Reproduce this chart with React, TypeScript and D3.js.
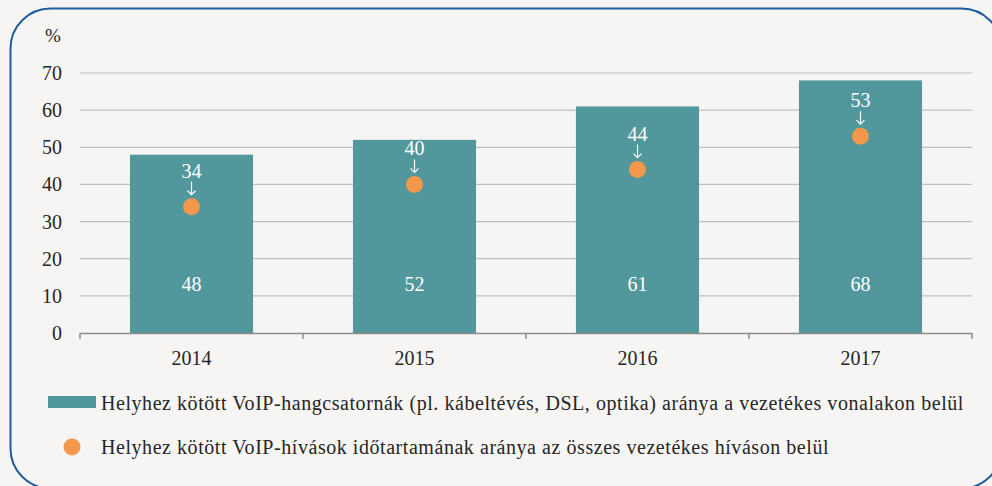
import React, { useEffect, useRef } from 'react';
import * as d3 from 'd3';

const years = ['2014', '2015', '2016', '2017'];
const channelShare = [48, 52, 61, 68];
const durationShare = [34, 40, 44, 53];
const yTicks = [0, 10, 20, 30, 40, 50, 60, 70];
const legendLabels = [
  'Helyhez kötött VoIP-hangcsatornák (pl. kábeltévés, DSL, optika) aránya a vezetékes vonalakon belül',
  'Helyhez kötött VoIP-hívások időtartamának aránya az összes vezetékes híváson belül',
];

const W = 992;
const H = 486;
const FONT = '"Liberation Serif", "DejaVu Serif", serif';
const BAR = '#52979b';
const DOT = '#f3984a';
const TEXT = '#262626';

const App = () => {
  const svgRef = useRef<SVGSVGElement | null>(null);

  useEffect(() => {
    const svg = d3.select(svgRef.current);
    svg.selectAll('*').remove();

    svg.append('rect').attr('width', W).attr('height', H).attr('fill', '#f6f5f3');

    // rounded frame, partly cut by the window
    svg.append('rect')
      .attr('x', 10.5).attr('y', 8.5)
      .attr('width', 991).attr('height', 480)
      .attr('rx', 40).attr('ry', 40)
      .attr('fill', 'none')
      .attr('stroke', '#1f5c9e')
      .attr('stroke-width', 2);

    const left = 80, right = 972, top = 73, bottom = 333;

    const x = d3.scaleBand().domain(years).range([left, right]).paddingInner(0.448).paddingOuter(0.224);
    const y = d3.scaleLinear().domain([0, 70]).range([bottom, top]);

    // gridlines
    svg.append('g').selectAll('line')
      .data(yTicks.filter(d => d > 0))
      .enter().append('line')
      .attr('x1', left).attr('x2', right)
      .attr('y1', d => y(d)).attr('y2', d => y(d))
      .attr('stroke', '#bfbfbf').attr('stroke-width', 1.2);

    // y labels
    svg.append('g').selectAll('text')
      .data(yTicks)
      .enter().append('text')
      .attr('x', 62).attr('y', d => y(d))
      .attr('dy', '0.35em')
      .attr('text-anchor', 'end')
      .attr('fill', TEXT)
      .style('font-family', FONT).style('font-size', '20px')
      .text(d => d);

    svg.append('text')
      .attr('x', 53).attr('y', 35).attr('dy', '0.35em')
      .attr('text-anchor', 'middle')
      .attr('fill', TEXT)
      .style('font-family', FONT).style('font-size', '19px')
      .text('%');

    // bars
    svg.append('g').selectAll('rect')
      .data(channelShare)
      .enter().append('rect')
      .attr('x', (d, i) => x(years[i])!)
      .attr('width', x.bandwidth())
      .attr('y', d => y(d))
      .attr('height', d => bottom - y(d))
      .attr('fill', BAR);

    svg.append('g').selectAll('text')
      .data(channelShare)
      .enter().append('text')
      .attr('x', (d, i) => x(years[i])! + x.bandwidth() / 2)
      .attr('y', y(13.3)).attr('dy', '0.35em')
      .attr('text-anchor', 'middle')
      .attr('fill', '#ffffff')
      .style('font-family', FONT).style('font-size', '20px')
      .text(d => d);

    // axis
    const step = x.step();
    svg.append('line')
      .attr('x1', left).attr('x2', right)
      .attr('y1', bottom + 0.5).attr('y2', bottom + 0.5)
      .attr('stroke', '#8c8c8c').attr('stroke-width', 1.5);
    svg.append('g').selectAll('line')
      .data(d3.range(years.length + 1))
      .enter().append('line')
      .attr('x1', i => left + i * step).attr('x2', i => left + i * step)
      .attr('y1', bottom).attr('y2', bottom + 6)
      .attr('stroke', '#8c8c8c').attr('stroke-width', 1.5);

    svg.append('g').selectAll('text')
      .data(years)
      .enter().append('text')
      .attr('x', d => x(d)! + x.bandwidth() / 2)
      .attr('y', 358).attr('dy', '0.35em')
      .attr('text-anchor', 'middle')
      .attr('fill', TEXT)
      .style('font-family', FONT).style('font-size', '20px')
      .text(d => d);

    // dots, arrows and labels
    const dots = svg.append('g');
    durationShare.forEach((v, i) => {
      const cx = x(years[i])! + x.bandwidth() / 2;
      const cy = y(v);
      dots.append('circle')
        .attr('cx', cx).attr('cy', cy).attr('r', 8.5)
        .attr('fill', DOT);
      dots.append('path')
        .attr('d', `M${cx},${cy - 25}V${cy - 12.5}M${cx - 4},${cy - 16}L${cx},${cy - 12}L${cx + 4},${cy - 16}`)
        .attr('fill', 'none')
        .attr('stroke', '#ffffff').attr('stroke-width', 1.2);
      dots.append('text')
        .attr('x', cx).attr('y', cy - 36).attr('dy', '0.35em')
        .attr('text-anchor', 'middle')
        .attr('fill', '#ffffff')
        .style('font-family', FONT).style('font-size', '20px')
        .text(v);
    });

    // legend
    svg.append('rect')
      .attr('x', 48).attr('y', 396).attr('width', 48).attr('height', 12)
      .attr('fill', BAR);
    svg.append('circle')
      .attr('cx', 72).attr('cy', 447).attr('r', 8.5)
      .attr('fill', DOT);
    svg.append('g').selectAll('text')
      .data(legendLabels)
      .enter().append('text')
      .attr('x', 101).attr('y', (d, i) => 403 + i * 44).attr('dy', '0.35em')
      .attr('fill', TEXT)
      .style('font-family', FONT).style('font-size', '20px')
      .style('letter-spacing', '0.55px')
      .text(d => d);
  }, []);

  return (
    <svg ref={svgRef} width={W} height={H} style={{ position: 'absolute', left: 0, top: 0 }} />
  );
};

export default App;
